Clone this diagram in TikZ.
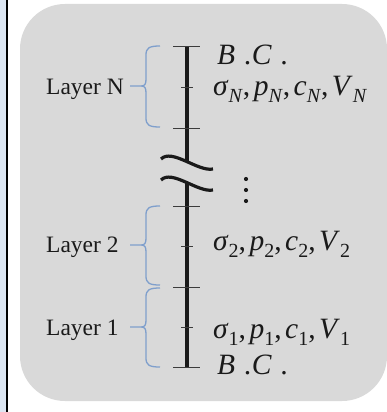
\documentclass[tikz,border=0pt]{standalone}
\usepackage{fontspec}
\setmainfont{Liberation Serif}
\definecolor{bggrey}{HTML}{D9D9D9}
\definecolor{stripblue}{HTML}{DCE6F2}
\definecolor{braceblue}{HTML}{7F9FCC}
\definecolor{ink}{HTML}{1A1A1A}
\newcommand\qsub[2]{\textit{#1}\raisebox{-0.24em}{\fontsize{20}{20}\selectfont #2}}
\newcommand\qcomma{,\kern3.5pt}
\begin{document}
\begin{tikzpicture}[x=1pt,y=-1pt,
  lab/.style={anchor=base west,inner sep=0pt,text=ink,font=\fontsize{23.5}{26}\selectfont},
  mth/.style={anchor=base west,inner sep=0pt,text=ink,font=\fontsize{29.5}{31}\selectfont},
  axis/.style={line width=3.2pt,ink},
  longtick/.style={line width=1pt,ink!85},
  shorttick/.style={line width=1pt,ink!85},
  bracestyle/.style={line width=1.3pt,braceblue},
  dotstyle/.style={fill=ink}]
\useasboundingbox (0,0) rectangle (386,412);
\fill[white] (0,0) rectangle (386,412);
\fill[stripblue] (0,0) rectangle (5.5,412);
\draw[black,line width=2pt] (6.5,0) -- (6.5,412);
\fill[bggrey,rounded corners=45pt] (20,4) rectangle (387,401);
% axis
\coordinate (aTop) at (187,47);
\coordinate (aBrk1) at (187,162);
\coordinate (aBrk2) at (187,183);
\coordinate (aBot) at (187,367);
\draw[axis] (aTop) -- (aBrk1);
\draw[axis] (aBrk2) -- (aBot);
% break waves
\draw[axis] (161,159) .. controls (172,148) and (198,172) .. (213,169);
\draw[axis] (161,180) .. controls (172,169) and (198,193) .. (213,190);
% ticks
\foreach \y in {47,128,206,287,367} \draw[longtick] (173,\y) -- (200,\y);
\foreach \y in {87,246,327} \draw[shorttick] (181,\y) -- (193,\y);
% braces
\foreach \t/\m/\b in {46/86/127, 206/245/285, 288/327/367}{
  \draw[bracestyle] (160,\t) .. controls (149,\t) and (146,\t+2) .. (146,\t+9)
     -- (146,\m-7) .. controls (146,\m-2) and (145,\m) .. (141,\m) -- (130,\m)
     (141,\m) .. controls (145,\m) and (146,\m+2) .. (146,\m+7)
     -- (146,\b-9) .. controls (146,\b-2) and (149,\b) .. (160,\b);
}
% dots
\foreach \y in {179,190,201} \fill[dotstyle] (246,\y) circle (2.1);
% labels
\node[lab] (lN) at (46,94) {Layer N};
\node[lab] (l2) at (46,252) {Layer 2};
\node[lab] (l1) at (46,335) {Layer 1};
% parameters
\node[mth] (bcT) at (217,64) {\textit{B\kern2pt\ .C\kern2pt\ .}};
\node[mth] (pN) at (213,95) {\qsub{σ}{\textit{N}}\qcomma\qsub{p}{\textit{N}}\qcomma\qsub{c}{\textit{N}}\qcomma\qsub{V}{\textit{N}}};
\node[mth] (p2) at (213,250) {\qsub{σ}{2}\qcomma\qsub{p}{2}\qcomma\qsub{c}{2}\qcomma\qsub{V}{2}};
\node[mth] (p1) at (213,338) {\qsub{σ}{1}\qcomma\qsub{p}{1}\qcomma\qsub{c}{1}\qcomma\qsub{V}{1}};
\node[mth] (bcB) at (217,374) {\textit{B\kern2pt\ .C\kern2pt\ .}};
\end{tikzpicture}
\end{document}
